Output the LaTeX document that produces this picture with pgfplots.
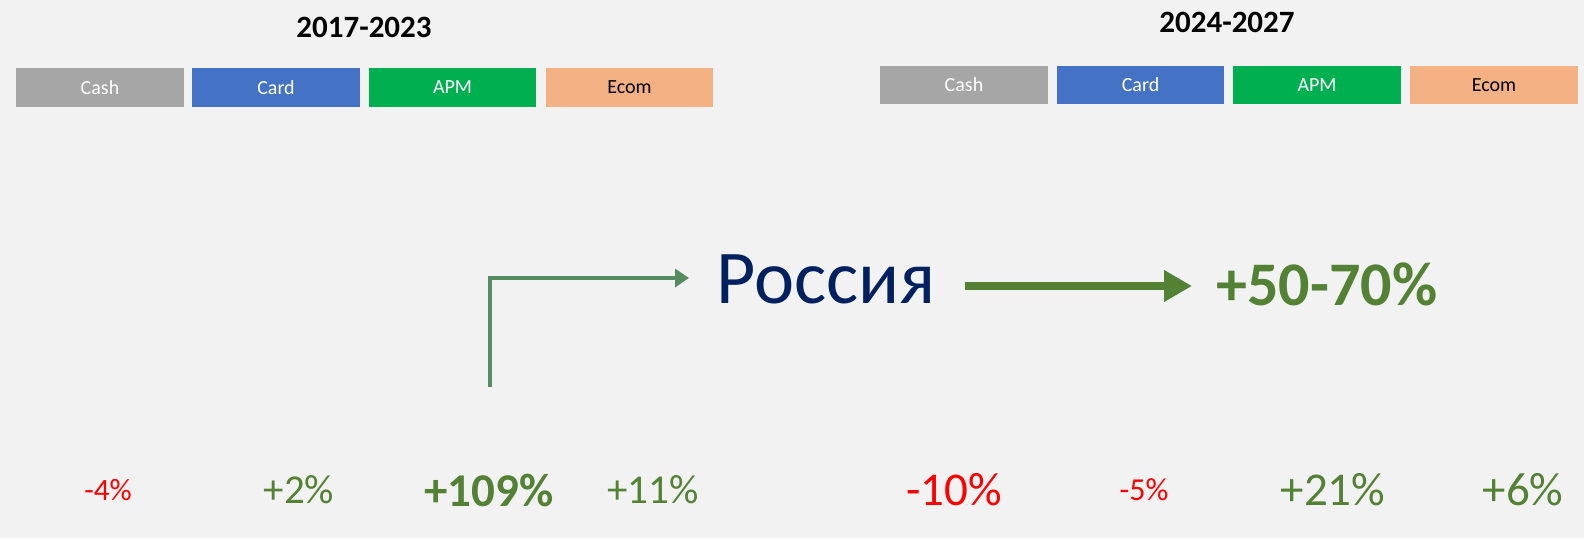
\documentclass[border=0pt]{standalone}
\usepackage{fontspec}
\setmainfont{Carlito}
\usepackage{pgfplots}
\pgfplotsset{compat=1.18}
\usetikzlibrary{arrows.meta}
\definecolor{bgc}{HTML}{F2F2F2}
\definecolor{cashc}{HTML}{A6A6A6}
\definecolor{cardc}{HTML}{4472C4}
\definecolor{apmc}{HTML}{00B050}
\definecolor{ecomc}{HTML}{F4B183}
\definecolor{gr}{HTML}{548235}
\definecolor{lgr}{HTML}{548C60}
\definecolor{navy}{HTML}{002060}
\definecolor{rd}{HTML}{FF0000}
\newcommand{\fs}[1]{\fontsize{#1}{#1}\selectfont}
\begin{document}
\begin{tikzpicture}
\begin{axis}[width=1584pt,height=538pt,scale only axis,
  xmin=0,xmax=1584,ymin=0,ymax=538,y dir=reverse,hide axis,clip=false]
\fill[bgc] (axis cs:0,0) rectangle (axis cs:1584,538);
% titles
\node[font=\fs{31}\bfseries] at (axis cs:364,27) {2017-2023};
\node[font=\fs{31}\bfseries] at (axis cs:1227,22) {2024-2027};
% left boxes
\fill[cashc] (axis cs:16,68) rectangle (axis cs:184,107);
\fill[cardc] (axis cs:192,68) rectangle (axis cs:360,107);
\fill[apmc] (axis cs:369,68) rectangle (axis cs:536,107);
\fill[ecomc] (axis cs:546,68) rectangle (axis cs:713,107);
\node[white,font=\fs{20}] at (axis cs:100,87.5) {Cash};
\node[white,font=\fs{20}] at (axis cs:276,87.5) {Card};
\node[white,font=\fs{20}] at (axis cs:452.5,87.5) {APM};
\node[black,font=\fs{20}] at (axis cs:629.5,87.5) {Ecom};
% right boxes
\fill[cashc] (axis cs:880,66) rectangle (axis cs:1048,104);
\fill[cardc] (axis cs:1057,66) rectangle (axis cs:1224,104);
\fill[apmc] (axis cs:1233,66) rectangle (axis cs:1401,104);
\fill[ecomc] (axis cs:1410,66) rectangle (axis cs:1578,104);
\node[white,font=\fs{20}] at (axis cs:964,85) {Cash};
\node[white,font=\fs{20}] at (axis cs:1140.5,85) {Card};
\node[white,font=\fs{20}] at (axis cs:1317,85) {APM};
\node[black,font=\fs{20}] at (axis cs:1494,85) {Ecom};
% arrows
\draw[lgr,line width=4pt,-{Triangle[length=14pt,width=18pt]}] (axis cs:490,387) -- (axis cs:490,278) -- (axis cs:689,278);
\draw[gr,line width=8pt,-{Triangle[length=28pt,width=30pt]}] (axis cs:965,286) -- (axis cs:1192,286);
% center text
\node[navy,font=\fs{76},anchor=base] at (axis cs:826,303) {Россия};
\node[gr,font=\fs{62}\bfseries,anchor=base] at (axis cs:1327,305) {+50-70\%};
% percentages
\node[rd,font=\fs{31}] at (axis cs:108,490) {-4\%};
\node[gr,font=\fs{41}] at (axis cs:299,490) {+2\%};
\node[gr,font=\fs{47}\bfseries] at (axis cs:489,490) {+109\%};
\node[gr,font=\fs{41}] at (axis cs:653,490) {+11\%};
\node[rd,font=\fs{47}] at (axis cs:954,490) {-10\%};
\node[rd,font=\fs{32}] at (axis cs:1144,490) {-5\%};
\node[gr,font=\fs{47}] at (axis cs:1333,490) {+21\%};
\node[gr,font=\fs{47}] at (axis cs:1523,490) {+6\%};
\end{axis}
\end{tikzpicture}
\end{document}
